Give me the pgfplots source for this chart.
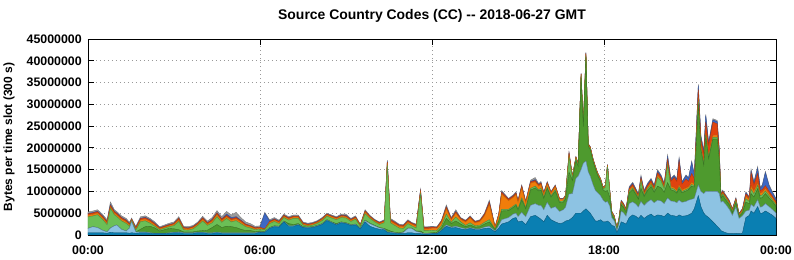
\documentclass[border=0pt]{standalone}
\usepackage{fontspec}
\setmainfont{Liberation Sans}
\usepackage{pgfplots}
\usepackage{pgfplotstable}
\pgfplotsset{compat=1.18}
\definecolor{cdb}{HTML}{0A7FB2}
\definecolor{clb}{HTML}{8DC3E3}
\definecolor{cdg}{HTML}{4E9A2E}
\definecolor{clg}{HTML}{6BBF56}
\definecolor{cor}{HTML}{F07D0A}
\definecolor{crd}{HTML}{E0430F}
\definecolor{cbl}{HTML}{3D68C4}
\definecolor{cgr}{HTML}{9B9B9B}
\pgfplotstableread{
h db lb dg lg or rd bl gr
0.000 0.5 1.0 0.0 2.65 0.4 0.3 0.1 0.35
0.167 0.5 1.4 0.0 2.45 0.4 0.3 0.1 0.35
0.333 0.5 1.2 0.0 2.95 0.4 0.3 0.1 0.35
0.500 0.5 0.6 0.0 2.55 0.4 0.3 0.1 0.35
0.667 0.4 0.3 0.0 1.65 0.4 0.3 0.1 0.35
0.783 0.6 1.0 0.0 4.5 0.4 0.3 0.2 0.6
0.917 0.5 1.6 0.0 2.55 0.4 0.3 0.1 0.35
1.000 0.5 1.8 0.0 1.95 0.4 0.3 0.1 0.35
1.167 0.5 0.8 0.0 1.95 0.4 0.3 0.1 0.35
1.333 0.5 0.4 0.0 1.75 0.4 0.3 0.1 0.35
1.450 0.4 1.2 0.0 0.4 0.3 0.2 0.1 0.3
1.520 0.5 2.6 0.0 0.2 0.2 0.15 0.05 0.2
1.667 0.4 0.3 0.0 0.4 0.3 0.2 0.1 0.3
1.833 0.5 0.2 0.6 1.75 0.4 0.3 0.1 0.35
2.000 0.5 0.2 1.2 1.35 0.4 0.3 0.1 0.35
2.167 0.4 0.1 1.5 0.7 0.4 0.3 0.1 0.3
2.333 0.3 0.1 1.2 0.4 0.35 0.25 0.1 0.3
2.500 0.3 0.1 0.5 0.3 0.25 0.15 0.05 0.25
2.667 0.3 0.1 0.8 0.35 0.25 0.2 0.05 0.25
2.833 0.4 0.1 1.0 0.4 0.25 0.2 0.05 0.3
3.000 0.5 0.1 0.8 0.75 0.3 0.2 0.05 0.3
3.167 0.5 0.2 0.5 1.9 0.4 0.3 0.05 0.35
3.333 0.4 0.1 0.2 0.5 0.3 0.2 0.05 0.25
3.500 0.4 0.1 0.2 0.4 0.3 0.2 0.05 0.25
3.667 0.4 0.1 0.2 0.7 0.3 0.2 0.05 0.25
3.833 0.5 0.1 0.3 1.3 0.3 0.2 0.05 0.25
4.000 0.5 0.1 0.4 2.2 0.4 0.3 0.05 0.35
4.167 0.4 0.1 0.6 1.1 0.3 0.25 0.1 0.35
4.333 0.4 0.1 1.2 1.1 0.4 0.3 0.1 0.4
4.500 0.5 0.1 1.8 1.8 0.5 0.3 0.1 0.5
4.667 0.4 0.1 1.2 1.2 0.4 0.3 0.1 0.5
4.833 0.4 0.1 1.5 1.8 0.4 0.3 0.3 0.6
5.000 0.4 0.1 1.4 1.1 0.4 0.3 0.3 0.6
5.167 0.4 0.1 1.2 1.6 0.4 0.3 0.2 1.0
5.333 0.4 0.1 0.8 1.3 0.4 0.3 0.1 0.6
5.500 0.4 0.1 0.5 0.9 0.3 0.25 0.05 0.5
5.667 0.4 0.1 0.5 0.6 0.3 0.2 0.05 0.45
5.833 0.4 0.1 0.3 0.4 0.25 0.2 0.05 0.3
6.000 0.6 0.1 0.2 0.4 0.25 0.2 0.05 0.3
6.167 0.6 0.1 0.1 0.4 0.1 0.1 3.6 0.2
6.333 1.5 0.1 0.1 0.9 0.3 0.2 0.1 0.3
6.500 1.9 0.1 0.1 1.0 0.3 0.2 0.1 0.3
6.667 1.8 0.1 0.1 0.6 0.3 0.2 0.05 0.25
6.833 3.0 0.1 0.1 0.8 0.3 0.2 0.05 0.25
7.000 2.0 0.1 0.5 0.8 0.3 0.2 0.05 0.25
7.167 2.0 0.1 0.3 1.4 0.3 0.2 0.05 0.25
7.333 2.3 0.1 0.2 1.2 0.3 0.2 0.05 0.25
7.500 1.7 0.1 0.1 0.4 0.25 0.2 0.05 0.2
7.667 1.6 0.1 0.1 0.25 0.25 0.15 0.05 0.2
7.833 1.7 0.1 0.1 0.35 0.25 0.15 0.05 0.2
8.000 2.0 0.1 0.1 0.45 0.25 0.15 0.05 0.2
8.167 2.4 0.1 0.1 0.7 0.3 0.15 0.05 0.2
8.333 3.3 0.1 0.1 0.8 0.3 0.15 0.05 0.2
8.500 2.8 0.1 0.1 0.9 0.3 0.15 0.05 0.2
8.667 2.3 0.1 0.2 0.9 0.3 0.15 0.05 0.2
8.833 2.8 0.1 0.1 1.0 0.3 0.15 0.1 0.25
9.000 2.6 0.1 0.1 1.1 0.3 0.2 0.1 0.3
9.167 2.2 0.1 0.1 0.7 0.3 0.15 0.05 0.2
9.333 2.3 0.1 0.1 1.1 0.3 0.2 0.05 0.25
9.500 1.4 0.1 0.1 0.4 0.2 0.1 0.05 0.15
9.667 3.0 0.3 0.1 1.5 0.4 0.2 0.05 0.25
9.833 2.0 0.6 0.1 1.1 0.3 0.15 0.05 0.2
10.000 1.6 0.5 0.1 0.8 0.25 0.15 0.05 0.15
10.167 1.3 0.3 0.1 0.7 0.25 0.15 0.05 0.15
10.333 1.2 0.2 0.1 1.3 0.3 0.15 0.05 0.2
10.440 0.6 0.1 0.5 14.8 0.5 0.3 0.1 0.3
10.550 0.5 0.2 0.2 1.9 0.4 0.3 0.05 0.25
10.700 0.4 0.1 0.1 1.6 0.4 0.3 0.05 0.25
10.850 0.3 0.1 0.1 1.1 0.4 0.25 0.05 0.2
11.000 0.3 0.3 0.1 0.8 0.4 0.25 0.05 0.2
11.160 0.5 1.0 0.1 1.0 0.4 0.25 0.05 0.2
11.290 0.5 1.0 0.1 0.5 0.4 0.2 0.05 0.15
11.450 0.3 0.5 0.1 0.7 0.4 0.3 0.05 0.15
11.600 0.3 0.3 0.3 8.5 0.5 0.3 0.1 0.2
11.720 0.2 0.1 0.1 0.6 0.4 0.3 0.05 0.15
11.850 0.2 0.1 0.1 0.6 0.4 0.3 0.05 0.15
12.000 0.3 0.1 0.1 0.6 0.4 0.3 0.05 0.15
12.170 0.3 0.1 0.2 0.4 0.5 0.2 0.05 0.15
12.330 1.0 0.1 0.5 0.5 0.8 0.25 0.05 0.2
12.500 2.0 0.3 1.5 1.0 1.2 0.4 0.1 0.4
12.670 1.6 0.2 0.8 0.3 0.6 0.2 0.1 0.2
12.830 1.7 0.3 1.2 0.9 0.9 0.3 0.1 0.4
13.000 1.4 0.3 0.8 0.5 0.6 0.2 0.05 0.15
13.170 1.2 0.2 0.5 0.3 0.8 0.2 0.05 0.15
13.330 1.5 0.2 0.6 0.5 1.1 0.25 0.05 0.2
13.500 1.2 0.2 0.4 0.3 0.7 0.2 0.05 0.15
13.670 1.2 0.2 0.5 0.3 0.9 0.2 0.05 0.15
13.830 1.5 0.3 0.7 0.4 1.5 0.3 0.05 0.25
14.000 1.6 0.4 1.0 0.5 3.5 0.5 0.1 0.4
14.200 0.7 0.2 0.3 0.1 0.4 0.1 0.05 0.15
14.330 1.6 0.6 1.0 0.2 1.2 0.2 0.05 0.15
14.430 2.5 1.0 2.0 0.4 3.5 0.4 0.1 0.3
14.670 3.0 1.0 1.6 0.3 2.0 0.3 0.05 0.15
14.830 3.8 1.0 1.5 0.3 2.0 0.3 0.1 0.2
14.930 4.0 1.0 1.8 0.3 2.2 0.3 0.1 0.2
15.000 3.0 1.2 1.5 0.3 1.5 0.3 0.05 0.15
15.130 3.2 2.0 2.8 0.5 2.3 0.4 0.1 0.2
15.270 2.4 1.8 1.8 0.3 1.1 0.2 0.05 0.15
15.440 4.2 2.6 3.5 0.4 1.2 0.3 0.1 0.3
15.600 4.5 2.7 3.6 0.4 1.0 0.3 0.2 0.5
15.720 4.0 2.8 3.3 0.3 0.8 0.3 0.1 0.2
15.800 3.6 3.2 3.5 0.4 0.9 0.3 0.1 0.3
15.900 3.0 2.8 2.6 0.3 0.7 0.2 0.1 0.2
16.020 4.5 3.0 3.2 0.3 0.8 0.2 0.1 0.2
16.150 3.5 2.6 2.6 0.3 0.6 0.2 0.05 0.15
16.300 3.0 3.5 3.5 0.4 0.7 0.2 0.05 0.15
16.450 2.6 2.8 2.0 0.3 0.5 0.1 0.05 0.05
16.580 2.8 3.0 1.7 0.3 0.4 0.1 0.05 0.05
16.660 3.2 3.2 1.8 0.4 0.4 0.1 0.05 0.05
16.780 3.4 6.0 5.0 3.5 0.6 0.3 0.1 0.1
16.900 4.0 5.5 3.0 0.5 0.4 0.1 0.05 0.05
17.020 5.0 8.0 4.0 0.5 0.3 0.1 0.05 0.05
17.100 5.0 8.5 2.3 0.2 0.3 0.1 0.05 0.05
17.200 5.0 10.0 21.0 0.6 0.3 0.1 0.05 0.05
17.280 5.5 11.0 8.4 0.2 0.3 0.1 0.05 0.05
17.370 6.0 11.0 23.7 0.4 0.4 0.2 0.1 0.1
17.450 5.5 9.0 5.8 0.2 0.3 0.1 0.05 0.05
17.520 5.0 8.5 6.1 0.2 0.3 0.1 0.05 0.05
17.620 4.0 7.5 5.3 0.2 0.3 0.1 0.05 0.05
17.700 3.2 7.0 4.9 0.2 0.3 0.1 0.05 0.05
17.780 3.2 6.5 3.9 0.2 0.3 0.1 0.05 0.05
17.880 3.5 5.5 3.3 0.2 0.3 0.1 0.05 0.05
17.970 3.0 5.0 2.3 0.2 0.3 0.1 0.05 0.05
18.050 3.0 4.5 2.5 1.0 0.3 0.1 0.05 0.05
18.120 3.2 4.5 2.5 5.5 0.3 0.1 0.05 0.05
18.200 2.8 3.8 2.0 1.4 0.3 0.1 0.05 0.05
18.270 2.2 1.8 0.6 0.4 0.3 0.1 0.05 0.05
18.360 2.0 1.2 0.4 0.3 0.3 0.1 0.05 0.05
18.450 0.6 0.4 0.2 0.2 0.2 0.1 0.1 0.1
18.520 1.5 1.0 0.5 0.3 0.3 0.1 0.05 0.05
18.600 3.0 2.5 1.4 0.4 0.3 0.2 0.1 0.1
18.680 2.8 2.3 1.2 0.3 0.3 0.2 0.1 0.1
18.770 2.5 1.8 0.9 0.2 0.3 0.2 0.1 0.1
18.880 4.0 3.2 2.4 0.4 0.4 0.3 0.2 0.2
19.000 4.6 3.0 2.8 0.4 0.4 0.4 0.3 0.2
19.110 4.3 2.8 2.2 0.3 0.4 0.3 0.2 0.2
19.200 3.8 2.6 1.8 0.3 0.3 0.3 0.2 0.2
19.290 4.5 3.2 3.0 1.6 0.4 0.4 0.3 0.3
19.400 3.8 3.0 2.0 0.3 0.4 0.4 0.2 0.2
19.520 4.4 3.2 2.6 0.4 0.4 0.4 0.3 0.2
19.640 4.8 3.3 3.0 0.5 0.4 0.5 0.3 0.2
19.750 4.2 3.2 2.4 0.4 0.4 0.4 0.3 0.2
19.870 4.6 3.4 3.2 2.0 0.5 0.6 0.4 0.3
19.990 4.5 3.3 3.0 1.6 0.4 0.5 0.3 0.2
20.100 4.2 3.0 2.6 0.8 0.4 0.5 0.2 0.2
20.220 5.0 3.5 3.5 4.0 0.5 0.8 0.7 0.4
20.330 4.5 3.3 2.6 0.4 0.4 1.2 0.4 0.2
20.450 4.4 3.3 2.4 0.4 0.4 2.3 0.4 0.2
20.540 4.2 3.2 2.2 0.3 0.4 2.0 0.4 0.2
20.620 4.6 3.4 2.6 0.4 0.5 5.5 0.5 0.3
20.720 4.3 3.2 2.2 0.3 0.4 1.3 0.4 0.2
20.860 4.4 3.3 2.4 0.3 0.4 2.0 0.8 0.2
20.950 4.6 3.4 2.4 0.3 0.4 1.2 0.7 0.2
21.060 5.0 3.2 3.0 0.4 0.5 2.0 2.6 0.3
21.150 6.0 2.4 2.6 0.3 0.4 1.2 0.8 0.2
21.290 9.0 2.5 18.5 0.6 0.8 2.0 0.9 0.3
21.380 6.5 3.5 9.5 0.4 0.5 1.5 0.7 0.3
21.480 5.0 4.5 6.5 0.3 0.4 2.0 0.5 0.3
21.550 4.5 5.5 12.5 0.4 0.5 2.5 1.5 0.3
21.650 4.0 6.0 7.5 0.3 0.4 2.5 0.4 0.3
21.800 3.0 7.0 12.0 0.4 0.5 3.0 0.5 0.3
21.950 2.0 8.0 12.0 0.4 0.5 2.6 0.5 0.3
22.020 1.5 8.0 7.8 0.4 0.5 1.0 0.5 0.3
22.080 1.0 6.5 0.9 0.3 0.3 0.2 0.1 0.2
22.140 0.8 7.0 1.2 0.4 0.3 0.3 0.1 0.2
22.250 0.5 6.5 1.0 0.4 0.3 0.2 0.1 0.2
22.370 0.3 5.6 1.0 0.3 0.3 0.2 0.1 0.2
22.480 0.3 4.2 0.6 0.3 0.3 0.2 0.1 0.1
22.600 0.4 6.0 1.0 0.4 0.3 0.2 0.1 0.2
22.710 0.3 3.5 0.4 0.2 0.3 0.1 0.1 0.1
22.830 0.4 4.0 0.6 0.3 0.4 0.2 0.1 0.1
22.950 4.0 1.5 2.0 0.8 0.6 0.5 0.3 0.2
23.070 4.5 1.2 1.5 0.5 0.4 0.4 0.1 0.2
23.130 5.5 1.5 2.5 1.0 0.8 3.0 0.4 0.4
23.230 5.0 1.5 2.2 0.7 0.7 1.4 0.5 0.3
23.360 6.5 1.6 2.5 0.8 0.7 2.0 1.2 0.4
23.450 5.0 1.4 2.0 0.6 0.6 0.6 0.5 0.3
23.520 5.0 1.5 2.1 0.6 0.6 0.6 0.8 0.3
23.630 5.5 1.7 2.3 0.6 0.6 0.6 3.0 0.3
23.760 5.0 1.5 2.0 0.5 0.5 0.5 1.2 0.3
23.880 4.5 1.3 1.8 0.4 0.5 0.4 0.7 0.3
24.000 3.8 1.2 1.5 0.4 0.4 0.4 0.5 0.2
}\data
\begin{document}
\fontsize{12.4}{14}\selectfont\bfseries
\begin{tikzpicture}[font=\fontsize{12.4}{14}\selectfont\bfseries]
\path[use as bounding box] (-88bp,-25bp) rectangle (706bp,235bp);
\begin{axis}[
  at={(0,0)}, anchor=south west,
  scale only axis, width=688bp, height=196bp,
  xmin=0, xmax=24, ymin=0, ymax=45,
  xtick={0,6,12,18,24},
  xticklabels={00:00,06:00,12:00,18:00,00:00},
  ytick={0,5,10,15,20,25,30,35,40,45},
  yticklabels={0,5000000,10000000,15000000,20000000,25000000,30000000,35000000,40000000,45000000},
  /pgf/number format/assume math mode=true,
  tick style={black, line width=0.8bp},
  major tick length=6bp,
  tick align=inside,
  grid=major,
  grid style={dash pattern=on 1bp off 3bp, black!40, line width=0.7bp},
  axis line style={line width=0.8bp},
  xticklabel style={yshift=-7bp},
  yticklabel style={xshift=-2bp},
  title={Source Country Codes (CC) -{}- 2018-06-27 GMT},
  title style={at={(axis description cs:0.5,1)}, anchor=base, yshift=14bp, font=\fontsize{14}{16}\selectfont\bfseries},
  ylabel={Bytes per time slot (300 s)},
  ylabel style={at={(axis description cs:-0.1003,0.5)}, anchor=south, font=\fontsize{12}{14}\selectfont\bfseries},
  stack plots=y,
  every axis plot/.append style={line width=0.4bp},
]
\addplot[fill=cdb, draw=cdb!75!black] table[x=h,y=db]{\data} \closedcycle;
\addplot[fill=clb, draw=clb!70!black] table[x=h,y=lb]{\data} \closedcycle;
\addplot[fill=cdg, draw=cdg!75!black] table[x=h,y=dg]{\data} \closedcycle;
\addplot[fill=clg, draw=clg!75!black] table[x=h,y=lg]{\data} \closedcycle;
\addplot[fill=cor, draw=cor!80!black] table[x=h,y=or]{\data} \closedcycle;
\addplot[fill=crd, draw=crd!80!black] table[x=h,y=rd]{\data} \closedcycle;
\addplot[fill=cbl, draw=cbl!80!black] table[x=h,y=bl]{\data} \closedcycle;
\addplot[fill=cgr, draw=cgr!80!black] table[x=h,y=gr]{\data} \closedcycle;
\draw[line width=0.8bp] (rel axis cs:0,0) rectangle (rel axis cs:1,1);
\end{axis}
\end{tikzpicture}
\end{document}
